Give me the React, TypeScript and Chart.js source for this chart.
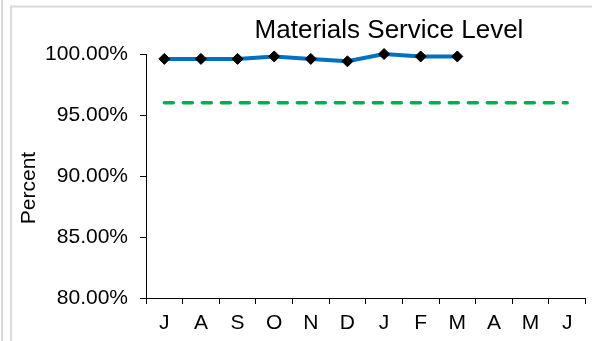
import React, { useEffect, useRef } from "react";
import { Chart, registerables } from "chart.js";

Chart.register(...registerables);

const months = ["J", "A", "S", "O", "N", "D", "J", "F", "M", "A", "M", "J"];
const serviceLevel = [99.6, 99.6, 99.6, 99.8, 99.6, 99.4, 100.0, 99.8, 99.8, null, null, null];
const target = [96, 96, 96, 96, 96, 96, 96, 96, 96, 96, 96, 96];
const yMin = 80;
const yMax = 100;
const yStep = 5;
const chartTitle = "Materials Service Level";
const yAxisTitle = "Percent";

const FONT = "'Liberation Sans', Arial, sans-serif";

const decorPlugin = {
  id: "decor",
  beforeDraw(chart: any) {
    const ctx = chart.ctx;
    ctx.save();
    ctx.fillStyle = "#ffffff";
    ctx.fillRect(0, 0, chart.width, chart.height);
    ctx.strokeStyle = "#dadada";
    ctx.lineWidth = 2;
    ctx.beginPath();
    ctx.moveTo(2, 0);
    ctx.lineTo(2, chart.height);
    ctx.moveTo(11, chart.height);
    ctx.lineTo(11, 6.5);
    ctx.lineTo(chart.width, 6.5);
    ctx.stroke();
    ctx.restore();
  },
  afterDraw(chart: any) {
    const ctx = chart.ctx;
    const area = chart.chartArea;
    ctx.save();
    ctx.fillStyle = "#000000";
    ctx.font = `26px ${FONT}`;
    ctx.textAlign = "center";
    ctx.textBaseline = "alphabetic";
    ctx.fillText(chartTitle, 389, 38);
    ctx.translate(35, (area.top + area.bottom) / 2 + 12);
    ctx.rotate(-Math.PI / 2);
    ctx.font = `21px ${FONT}`;
    ctx.fillText(yAxisTitle, 0, 0);
    ctx.restore();
  },
};

export default function App() {
  const ref = useRef<HTMLCanvasElement | null>(null);
  useEffect(() => {
    if (!ref.current) return;
    const chart = new Chart(ref.current, {
      type: "line",
      data: {
        labels: months,
        datasets: [
          {
            label: "Service Level",
            data: serviceLevel,
            borderColor: "#0070C0",
            backgroundColor: "#000000",
            borderWidth: 4,
            pointStyle: "rectRot",
            pointRadius: 5.5,
            pointBackgroundColor: "#000000",
            pointBorderColor: "#000000",
            pointBorderWidth: 1,
            tension: 0,
            clip: false as any,
            spanGaps: false,
            order: 0,
          },
          {
            label: "Target",
            data: target,
            borderColor: "#00B050",
            borderWidth: 3.5,
            borderDash: [9, 10],
            borderCapStyle: "round",
            pointRadius: 0,
            tension: 0,
            order: 1,
          },
        ],
      },
      options: {
        responsive: false,
        animation: false,
        devicePixelRatio: 1,
        layout: { padding: { top: 54, right: 1, left: 0, bottom: 0 } },
        plugins: {
          legend: { display: false },
          title: { display: false },
          tooltip: { enabled: false },
        },
        scales: {
          x: {
            offset: true,
            grid: {
              offset: true,
              drawOnChartArea: false,
              drawTicks: true,
              tickLength: 6,
              color: "#000000",
            },
            border: { display: true, color: "#000000", width: 1 },
            ticks: {
              color: "#000000",
              font: { family: FONT, size: 21 },
              padding: 7,
              maxRotation: 0,
              autoSkip: false,
            },
            afterFit(scale: any) {
              scale.height = 43;
            },
          },
          y: {
            min: yMin,
            max: yMax,
            grid: {
              drawOnChartArea: false,
              drawTicks: true,
              tickLength: 6,
              color: "#000000",
            },
            border: { display: true, color: "#000000", width: 1 },
            ticks: {
              stepSize: yStep,
              color: "#000000",
              font: { family: FONT, size: 21 },
              padding: 12,
              callback: (v: any) => Number(v).toFixed(2) + "%",
            },
            afterFit(scale: any) {
              scale.width = 146;
            },
          },
        },
      },
      plugins: [decorPlugin],
    });
    return () => chart.destroy();
  }, []);
  return (
    <div style={{ position: "fixed", left: 0, top: 0, width: 592, height: 341, background: "#fff" }}>
      <canvas ref={ref} width={592} height={341} style={{ display: "block", width: 592, height: 341 }} />
    </div>
  );
}
